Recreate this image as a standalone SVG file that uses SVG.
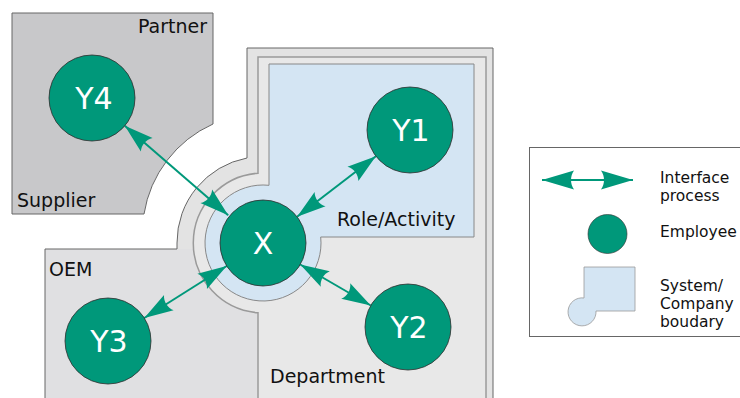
<svg xmlns="http://www.w3.org/2000/svg" width="740" height="398" viewBox="0 0 740 398">
<style>
.lbl{font-family:"DejaVu Sans","Liberation Sans",sans-serif;font-size:19px;fill:#111}
.emp circle{fill:#00987a;stroke:#2b2b2b;stroke-width:0.8}
.emp text{font-family:"DejaVu Sans","Liberation Sans",sans-serif;font-size:30px;fill:#fff;text-anchor:middle}
.con{stroke:#00987a;stroke-width:2;fill:none;marker-start:url(#ah);marker-end:url(#ah)}
.leg{font-family:"DejaVu Sans","Liberation Sans",sans-serif;font-size:15.5px;fill:#111}
</style>
<defs>
<marker id="ah" markerUnits="userSpaceOnUse" viewBox="-30 -10 31 20" refX="0" refY="0" markerWidth="31" markerHeight="20" orient="auto-start-reverse" overflow="visible">
<path d="M0,0 L-29,-9 C-25,-3.6 -25,3.6 -29,9 Z" fill="#00987a"/>
</marker>
<marker id="ahL" markerUnits="userSpaceOnUse" viewBox="-33 -10 34 20" refX="0" refY="0" markerWidth="34" markerHeight="20" orient="auto-start-reverse" overflow="visible">
<path d="M0,0 L-32,-9.5 C-28,-3.8 -28,3.8 -32,9.5 Z" fill="#00987a"/>
</marker>
</defs>

<g id="partner">
<path d="M12,13 H213 V124 A119.5,119.5 0 0 0 144,214 H12 Z" fill="#c8c8ca" stroke="#666" stroke-width="1"/>
<text class="lbl" x="138" y="33">Partner</text>
<text class="lbl" x="17" y="207">Supplier</text>
</g>

<g id="department-outer">
<path d="M247,48 H493 V400 H177 V243 A86,86 0 0 1 247,158 Z" fill="#e3e3e3" stroke="#666" stroke-width="1"/>
</g>

<g id="oem">
<rect x="45" y="249" width="213" height="151" fill="#e0e0e2"/>
<path d="M177,249 H45 V400" fill="none" stroke="#666" stroke-width="1"/>
<text class="lbl" x="49" y="276">OEM</text>
</g>

<g id="department">
<path d="M258,57 H486 V400 H258 V312.8 A70,70 0 0 1 258,173.2 Z" fill="#e8e8e8" stroke="#9a9a9a" stroke-width="1.5"/>
<text class="lbl" x="270" y="383">Department</text>
</g>

<g id="role">
<path d="M269,64 H474 V237 H320.7 A58,58 0 1 1 269,185.3 Z" fill="#d4e5f3" stroke="#888" stroke-width="1"/>
<text class="lbl" x="337" y="226">Role/Activity</text>
</g>

<g id="connectors">
<line class="con" x1="228.2" y1="215.2" x2="124.8" y2="125.8"/>
<line class="con" x1="297.1" y1="216.8" x2="375.9" y2="156.2"/>
<line class="con" x1="300.2" y1="264.5" x2="370.8" y2="305.5"/>
<line class="con" x1="226.7" y1="266" x2="144.3" y2="318"/>
</g>

<g id="Y4" class="emp"><circle cx="92" cy="98" r="43"/><text x="94" y="109">Y4</text></g>
<g id="X" class="emp"><circle cx="263" cy="243" r="43"/><text x="263" y="254">X</text></g>
<g id="Y1" class="emp"><circle cx="410" cy="130" r="43"/><text x="411" y="141">Y1</text></g>
<g id="Y2" class="emp"><circle cx="408" cy="327" r="43"/><text x="409" y="338">Y2</text></g>
<g id="Y3" class="emp"><circle cx="108" cy="341" r="43"/><text x="109" y="352">Y3</text></g>

<g id="legend">
<rect x="529.5" y="147.5" width="220" height="189" fill="#fff" stroke="#666" stroke-width="1"/>
<line x1="542" y1="180" x2="633" y2="180" stroke="#00987a" stroke-width="2" marker-start="url(#ahL)" marker-end="url(#ahL)"/>
<text class="leg" x="660" y="183">Interface</text>
<text class="leg" x="660" y="201">process</text>
<circle cx="607.5" cy="234" r="19.5" fill="#00987a" stroke="#2b2b2b" stroke-width="0.6"/>
<text class="leg" x="660" y="237">Employee</text>
<path d="M584,267 H635 V311 H596 A14,14 0 1 1 584,298 Z" fill="#d4e5f3" stroke="#999" stroke-width="0.8"/>
<text class="leg" x="660" y="291">System/</text>
<text class="leg" x="660" y="309">Company</text>
<text class="leg" x="660" y="327">boudary</text>
</g>
</svg>
